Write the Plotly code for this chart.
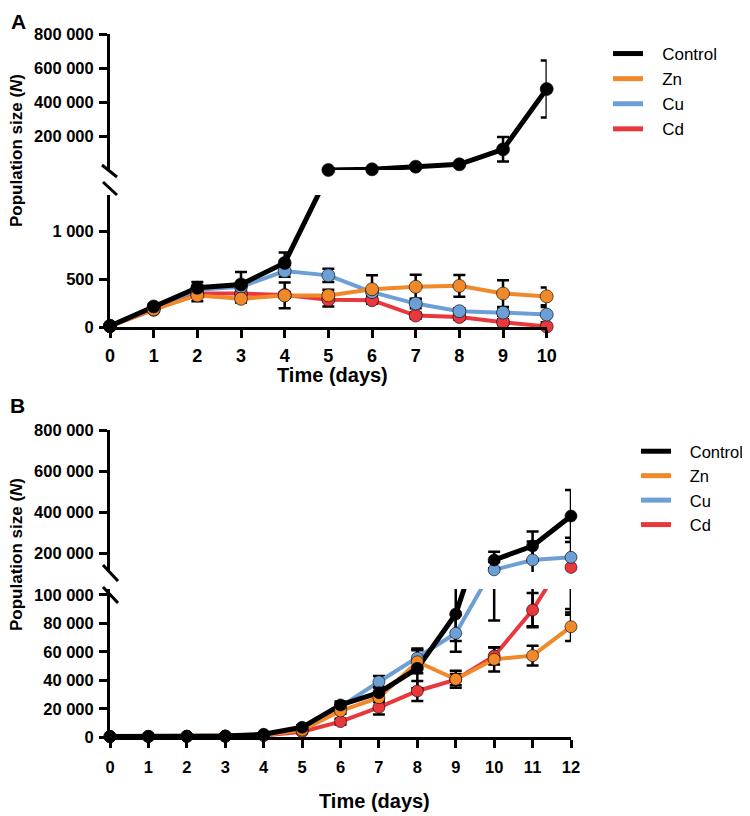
import plotly.graph_objects as go

# the page puts the figure 8px in from the top-left corner
OFF = 8
W, H = 750 - OFF, 816 - OFF
FONT = "Liberation Sans, Arial, sans-serif"

series = ["Cd", "Cu", "Zn", "Control"]
colors = {"Control": "#000000", "Zn": "#F0892A", "Cu": "#6C9FD6", "Cd": "#E8383D"}

# panel A (days 0-10)
days_a = list(range(11))
control_a = [10, 215, 410, 445, 670, 1600, 5600, 21000, 35000, 123000, 478000]
control_a_err = [5, 20, 60, 130, 110, 80, 1000, 5000, 6000, 72000, 168000]
zn_a = [10, 185, 330, 295, 330, 330, 395, 420, 430, 350, 320]
zn_a_err = [5, 20, 60, 40, 135, 60, 145, 127, 113, 140, 93]
cu_a = [10, 200, 390, 420, 585, 540, 365, 245, 165, 150, 130]
cu_a_err = [5, 20, 40, 40, 60, 70, 40, 50, 30, 30, 80]
cd_a = [10, 180, 350, 350, 335, 285, 280, 120, 105, 50, 5]
cd_a_err = [5, 20, 30, 30, 30, 70, 35, 30, 30, 30, 20]

# panel B (days 0-12)
days_b = list(range(13))
control_b = [500, 700, 800, 900, 2100, 7000, 22700, 31300, 48400, 86500, 168000, 236000, 382000]
control_b_err = [200, 200, 200, 300, 500, 1500, 2500, 4000, 14000, 19000, 40000, 70000, 126000]
zn_b = [500, 600, 700, 800, 1500, 5000, 18500, 27800, 53000, 40700, 54700, 57300, 77600]
zn_b_err = [200, 200, 200, 200, 400, 1000, 2000, 3000, 8000, 6000, 8500, 7000, 10000]
cu_b = [500, 600, 700, 800, 1500, 6000, 21500, 39000, 55600, 73000, 120000, 168000, 181000]
cu_b_err = [200, 200, 200, 200, 400, 1000, 2000, 4000, 6000, 13000, 38000, 90000, 95000]
cd_b = [500, 600, 700, 800, 1200, 3900, 11000, 21000, 32500, 40500, 57000, 89300, 132000]
cd_b_err = [200, 200, 200, 200, 300, 800, 2000, 5000, 7000, 4000, 6000, 12000, 42000]

data_a = {"Control": (control_a, control_a_err), "Zn": (zn_a, zn_a_err),
          "Cu": (cu_a, cu_a_err), "Cd": (cd_a, cd_a_err)}
data_b = {"Control": (control_b, control_b_err), "Zn": (zn_b, zn_b_err),
          "Cu": (cu_b, cu_b_err), "Cd": (cd_b, cd_b_err)}

ticks_a_low = [0, 500, 1000]
ticks_a_low_text = ["0", "500", "1 000"]
ticks_up = [200000, 400000, 600000, 800000]
ticks_up_text = ["200 000", "400 000", "600 000", "800 000"]
ticks_b_low = [0, 20000, 40000, 60000, 80000, 100000]
ticks_b_low_text = ["0", "20 000", "40 000", "60 000", "80 000", "100 000"]

range_a_low = [0, 1380]
range_a_up = [1500, 800000]
range_b_low = [0, 104000]
range_b_up = [110000, 800000]


def fx(p):
    return (p - OFF) / W


def fy(p):
    return 1 - (p - OFF) / H


fig = go.Figure()


def add_segment(days, data, xaxis, base_y, mark_y, rng, size, upper):
    # lines + error bars (clipped to the segment), then markers on an overlay axis
    for name in series:
        vals, err = data[name]
        line_vals = [v if (not upper or v >= rng[0]) else None for v in vals]
        fig.add_trace(go.Scatter(
            x=days, y=line_vals, mode="lines", xaxis=xaxis, yaxis=base_y,
            line=dict(color=colors[name], width=5 if name == "Control" else 4),
            error_y=dict(type="data", array=err, visible=True, color="black", thickness=2.5, width=6),
            showlegend=False, hoverinfo="skip"))
    for name in series:
        vals, err = data[name]
        shown = [v if rng[0] <= v <= rng[1] else None for v in vals]
        fig.add_trace(go.Scatter(
            x=days, y=shown, mode="markers", xaxis=xaxis, yaxis=mark_y, cliponaxis=False,
            marker=dict(color=colors[name], size=size, line=dict(color="rgba(0,0,0,0.6)", width=1)),
            showlegend=False, name=name))


add_segment(days_a, data_a, "x", "y", "y5", range_a_low, 13, False)
add_segment(days_a, data_a, "x", "y2", "y6", range_a_up, 13, True)
add_segment(days_b, data_b, "x2", "y3", "y7", range_b_low, 12, False)
add_segment(days_b, data_b, "x2", "y4", "y8", range_b_up, 12, True)

# legend entries (line only)
pad = "\u00a0\u00a0\u00a0"
for leg, xa, ya in [("legend", "x", "y"), ("legend2", "x2", "y3")]:
    for name in ["Control", "Zn", "Cu", "Cd"]:
        fig.add_trace(go.Scatter(x=[None], y=[None], mode="lines", name=pad + name, xaxis=xa, yaxis=ya,
                                 line=dict(color=colors[name], width=5), legend=leg))

axis_style = dict(showline=True, linewidth=3, linecolor="black", ticks="outside", ticklen=8,
                  tickwidth=3, tickcolor="black", showgrid=False, zeroline=False, automargin=False)

dom_x_a = [fx(110), fx(546.7)]
dom_x_b = [fx(110), fx(571)]
dom_a_low = [fy(327), fy(195)]
dom_a_up = [fy(170), fy(34.3)]
dom_b_low = [fy(737.3), fy(589.1)]
dom_b_up = [fy(571.9), fy(430.1)]

yfont = dict(family=FONT, size=16.5, color="black", weight="bold")

fig.update_layout(
    width=W, height=H, margin=dict(l=0, r=0, t=0, b=0, autoexpand=False),
    plot_bgcolor="white", paper_bgcolor="white",
    xaxis=dict(axis_style, domain=dom_x_a, range=[0, 10], anchor="y", tickvals=days_a,
               tickfont=dict(family=FONT, size=18, color="black", weight="bold"), ticklabelstandoff=2),
    xaxis2=dict(axis_style, domain=dom_x_b, range=[0, 12], anchor="y3", tickvals=days_b,
                tickfont=dict(family=FONT, size=16.5, color="black", weight="bold"), ticklabelstandoff=5),
    yaxis=dict(axis_style, domain=dom_a_low, range=range_a_low, anchor="x", tickfont=yfont,
               tickvals=ticks_a_low, ticktext=ticks_a_low_text, ticklabelstandoff=2),
    yaxis2=dict(axis_style, domain=dom_a_up, range=range_a_up, anchor="x", tickfont=yfont,
                tickvals=ticks_up, ticktext=ticks_up_text, ticklabelstandoff=2),
    yaxis3=dict(axis_style, domain=dom_b_low, range=range_b_low, anchor="x2", tickfont=yfont,
                tickvals=ticks_b_low, ticktext=ticks_b_low_text, ticklabelstandoff=2),
    yaxis4=dict(axis_style, domain=dom_b_up, range=range_b_up, anchor="x2", tickfont=yfont,
                tickvals=ticks_up, ticktext=ticks_up_text, ticklabelstandoff=2),
    yaxis5=dict(overlaying="y", range=range_a_low, visible=False, automargin=False),
    yaxis6=dict(overlaying="y2", range=range_a_up, visible=False, automargin=False),
    yaxis7=dict(overlaying="y3", range=range_b_low, visible=False, automargin=False),
    yaxis8=dict(overlaying="y4", range=range_b_up, visible=False, automargin=False),
    legend=dict(x=fx(608), y=fy(36), xanchor="left", yanchor="top",
                font=dict(family=FONT, size=17, color="black"), bgcolor="rgba(0,0,0,0)"),
    legend2=dict(x=fx(636), y=fy(434), xanchor="left", yanchor="top",
                 font=dict(family=FONT, size=16.5, color="black"), bgcolor="rgba(0,0,0,0)"),
    showlegend=True,
)

# axis break marks
for (x0, y0, x1, y1) in [(102, 165, 117, 177), (103, 182, 117, 195),
                         (103, 565, 118, 581), (103, 587, 118, 603)]:
    fig.add_shape(type="line", xref="paper", yref="paper", x0=fx(x0), y0=fy(y0), x1=fx(x1), y1=fy(y1),
                  line=dict(color="black", width=3))

title_font = dict(family=FONT, size=20, color="black", weight="bold")
yt_font = dict(family=FONT, size=17, color="black", weight="bold")
label_font = dict(family=FONT, size=21, color="black", weight="bold")
annots = [
    dict(text="A", x=fx(18), y=fy(8), font=label_font, yanchor="top"),
    dict(text="B", x=fx(17), y=fy(405), font=label_font),
    dict(text="Time (days)", x=fx(332), y=fy(375), font=title_font),
    dict(text="Time (days)", x=fx(374), y=fy(801), font=title_font),
    dict(text="Population size (<i>N</i>)", x=fx(16), y=fy(151), font=yt_font, textangle=-90),
    dict(text="Population size (<i>N</i>)", x=fx(16), y=fy(555), font=yt_font, textangle=-90),
]
for a in annots:
    a.setdefault("yanchor", "middle")
    fig.add_annotation(xref="paper", yref="paper", showarrow=False, xanchor="center", **a)

fig.write_html("out.html")
